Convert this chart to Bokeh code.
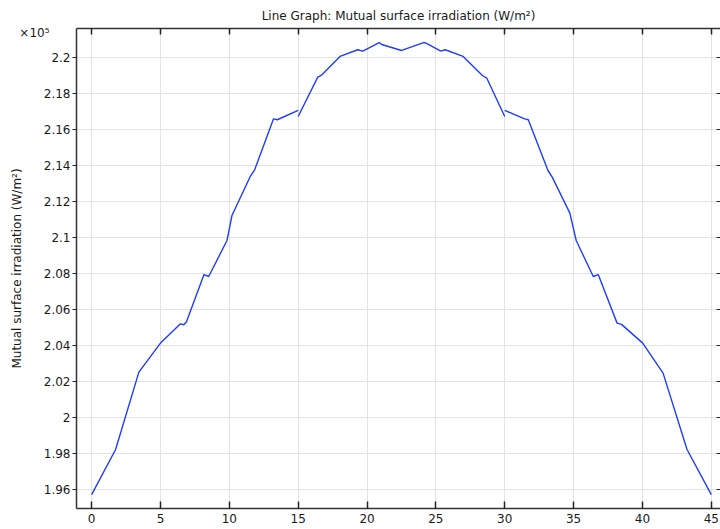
from bokeh.plotting import figure
from bokeh.models import (ColumnDataSource, LinearAxis, SingleIntervalTicker,
                          FixedTicker, CustomJSTickFormatter, Range1d)
from bokeh.embed import file_html
from bokeh.resources import INLINE

# ---- data (arc length, mutual surface irradiation in W/m^2) ----
x_seg1 = [0.0, 1.74, 3.43, 5.0, 6.45, 6.69, 6.88, 8.16, 8.50, 9.83, 10.19,
          11.52, 11.84, 13.21, 13.48, 15.0]
y_seg1 = [1.9571e5, 1.9822e5, 2.0252e5, 2.0413e5, 2.0520e5, 2.0515e5, 2.0530e5,
          2.0794e5, 2.0783e5, 2.0983e5, 2.1122e5, 2.1339e5, 2.1376e5, 2.1659e5,
          2.1654e5, 2.1706e5]

x_seg2 = [15.0, 16.42, 16.67, 18.04, 19.32, 19.69, 20.89, 21.06, 22.51, 24.11,
          24.28, 25.36, 25.67, 26.98, 28.38, 28.70, 30.0]
y_seg2 = [2.1672e5, 2.1891e5, 2.1900e5, 2.2006e5, 2.2043e5, 2.2035e5, 2.2083e5,
          2.2072e5, 2.2039e5, 2.2083e5, 2.2080e5, 2.2035e5, 2.2043e5, 2.2006e5,
          2.1900e5, 2.1885e5, 2.1672e5]

x_seg3 = [30.0, 31.45, 31.71, 33.14, 33.45, 34.73, 35.19, 36.43, 36.79, 38.16,
          38.48, 40.02, 41.50, 43.24, 45.0]
y_seg3 = [2.1706e5, 2.1659e5, 2.1654e5, 2.1372e5, 2.1335e5, 2.1135e5, 2.0983e5,
          2.0783e5, 2.0794e5, 2.0524e5, 2.0517e5, 2.0413e5, 2.0246e5, 1.9822e5,
          1.9571e5]

title_text = "Line Graph: Mutual surface irradiation (W/m\u00b2)"
y_label = "Mutual surface irradiation (W/m\u00b2)"
multiplier_text = "\u00d710\u2075"

FONT = "DejaVu Sans"
TXT = "#1a1a1a"

Y_LO, Y_HI = 1.9494e5, 2.2161e5

src = ColumnDataSource(data=dict(xs=[x_seg1, x_seg2, x_seg3],
                                 ys=[y_seg1, y_seg2, y_seg3]))

p = figure(width=720, height=529, output_backend="svg", toolbar_location=None,
           x_range=Range1d(-1.1, 45.67), y_range=Range1d(Y_LO, Y_HI),
           min_border_left=76, min_border_right=0, min_border_top=28,
           min_border_bottom=21, title=title_text)

p.multi_line(xs="xs", ys="ys", source=src, line_color="#1f3dff", line_width=1.4)

p.title.align = "center"
p.title.text_font = FONT
p.title.text_font_size = "12px"
p.title.text_font_style = "normal"
p.title.text_color = TXT
p.title.standoff = 12

p.outline_line_color = None
p.background_fill_color = "white"
p.border_fill_color = "white"

xt = SingleIntervalTicker(interval=5, num_minor_ticks=0)
yt = SingleIntervalTicker(interval=2000, num_minor_ticks=0)
fmt = CustomJSTickFormatter(code="return (tick/1e5).toFixed(2).replace(/\\.?0+$/, '');")
blank = CustomJSTickFormatter(code="return '';")

xa = p.xaxis[0]
xa.ticker = xt
xa.major_tick_in = 7
xa.major_tick_out = 0
xa.minor_tick_line_color = None
xa.major_label_standoff = 5
xa.axis_line_width = 1.5
xa.axis_line_color = "#333333"
xa.major_tick_line_color = "#222222"
xa.major_tick_line_width = 1.5
xa.major_label_text_font = FONT
xa.major_label_text_font_size = "12px"
xa.major_label_text_color = TXT

ya = p.yaxis[0]
ya.ticker = yt
ya.formatter = fmt
ya.major_tick_in = 0
ya.major_tick_out = 4
ya.minor_tick_line_color = None
ya.major_label_standoff = 2
ya.axis_line_width = 1.5
ya.axis_line_color = "#333333"
ya.major_tick_line_color = "#222222"
ya.major_label_text_font = FONT
ya.major_label_text_font_size = "12px"
ya.major_label_text_color = TXT

# outer left axis: carries the x10^5 multiplier (near the top) and the axis title
mult_pos = Y_HI - (Y_HI - Y_LO) * 4.0 / 480.0
outer = LinearAxis(ticker=FixedTicker(ticks=[mult_pos]),
                   formatter=CustomJSTickFormatter(args=dict(t=multiplier_text),
                                                   code="return t;"),
                   axis_line_color=None, major_tick_line_color=None,
                   minor_tick_line_color=None, major_tick_in=0, major_tick_out=0,
                   major_label_standoff=-9,
                   major_label_text_font=FONT, major_label_text_font_size="12px",
                   major_label_text_color=TXT,
                   axis_label=y_label, axis_label_text_font=FONT,
                   axis_label_text_font_size="12px",
                   axis_label_text_font_style="normal",
                   axis_label_text_color=TXT, axis_label_standoff=-8)
p.add_layout(outer, "left")

top = LinearAxis(ticker=xt, formatter=blank, major_tick_in=6,
                 major_tick_out=0, minor_tick_line_color=None,
                 major_label_standoff=0, axis_line_color="#333333",
                 axis_line_width=1.5, major_tick_line_color="#222222",
                 major_tick_line_width=1.5)
p.add_layout(top, "above")

right = LinearAxis(ticker=yt, formatter=blank, major_tick_in=4,
                   major_tick_out=0, minor_tick_line_color=None,
                   major_label_standoff=0, axis_line_color=None,
                   major_tick_line_color="#222222")
p.add_layout(right, "right")

p.xgrid.ticker = xt
p.ygrid.ticker = yt
p.xgrid.grid_line_color = "#e3e3e3"
p.ygrid.grid_line_color = "#e3e3e3"

open("out.html", "w").write(file_html(p, INLINE))
